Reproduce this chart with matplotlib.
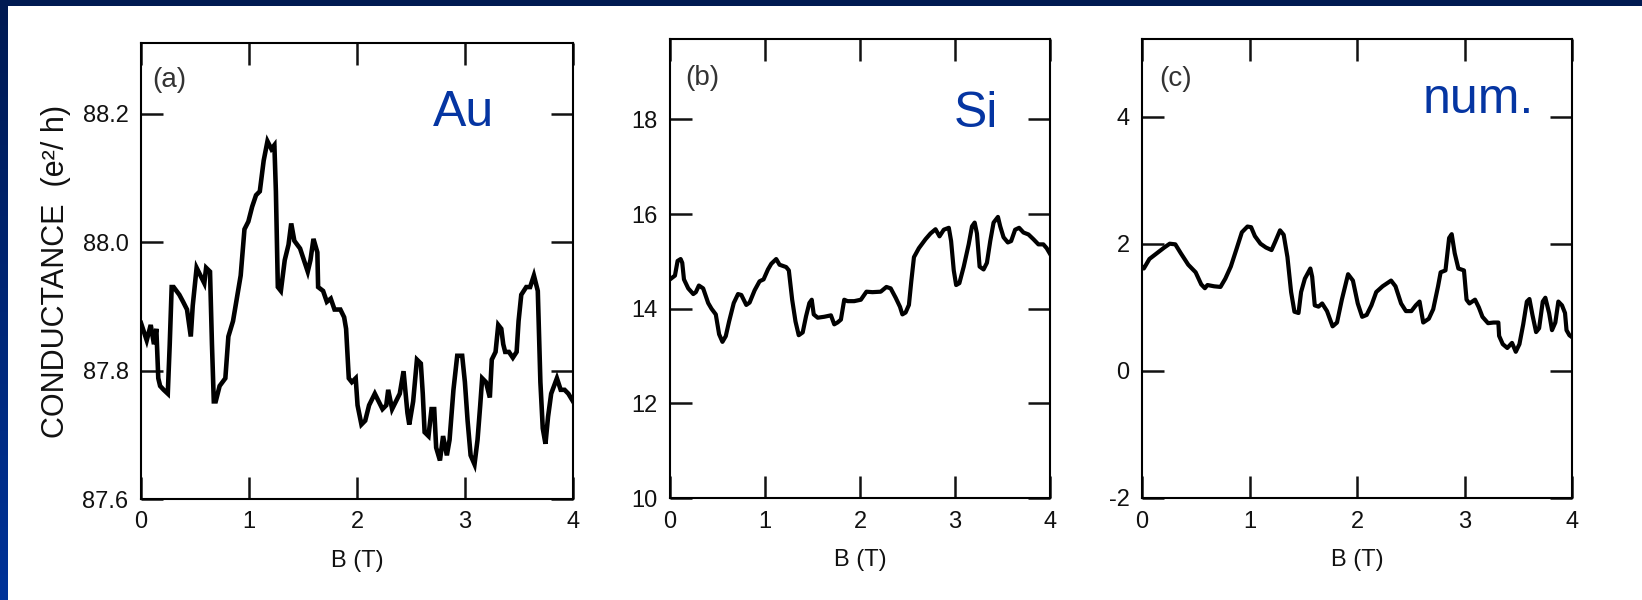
import numpy as np
import matplotlib.pyplot as plt
from matplotlib.colors import LinearSegmentedColormap

plt.rcParams['font.family'] = ['Liberation Sans', 'DejaVu Sans']

# (a) Au sample, conductance in e^2/h vs B (T)
b_au = [0.000, 0.018, 0.053, 0.090, 0.120, 0.142, 0.160, 0.177, 0.210, 0.248,
        0.266, 0.284, 0.302, 0.355, 0.390, 0.426, 0.461, 0.479, 0.515, 0.550,
        0.586, 0.603, 0.639, 0.657, 0.674, 0.692, 0.728, 0.781, 0.809, 0.852,
        0.887, 0.923, 0.958, 0.994, 1.029, 1.065, 1.100, 1.136, 1.171, 1.207,
        1.235, 1.249, 1.267, 1.295, 1.331, 1.366, 1.391, 1.420, 1.473, 1.508,
        1.544, 1.569, 1.597, 1.633, 1.640, 1.686, 1.721, 1.757, 1.792, 1.846,
        1.881, 1.899, 1.924, 1.952, 1.988, 2.005, 2.041, 2.076, 2.112, 2.165,
        2.201, 2.236, 2.271, 2.289, 2.325, 2.360, 2.396, 2.431, 2.467, 2.484,
        2.520, 2.555, 2.591, 2.609, 2.626, 2.662, 2.690, 2.715, 2.733, 2.768,
        2.797, 2.832, 2.857, 2.893, 2.928, 2.974, 2.999, 3.024, 3.052, 3.088,
        3.116, 3.141, 3.159, 3.194, 3.230, 3.248, 3.283, 3.308, 3.336, 3.354,
        3.372, 3.407, 3.443, 3.478, 3.496, 3.521, 3.567, 3.603, 3.638, 3.674,
        3.698, 3.720, 3.745, 3.769, 3.798, 3.851, 3.886, 3.922, 3.957, 4.000]
g_au = [87.874, 87.865, 87.847, 87.871, 87.841, 87.865, 87.788, 87.776, 87.770, 87.764,
        87.841, 87.930, 87.930, 87.918, 87.907, 87.895, 87.853, 87.901, 87.960, 87.948,
        87.936, 87.960, 87.954, 87.841, 87.752, 87.752, 87.776, 87.788, 87.853, 87.877,
        87.912, 87.948, 88.020, 88.032, 88.055, 88.073, 88.079, 88.127, 88.157, 88.145,
        88.151, 88.079, 87.930, 87.924, 87.972, 87.996, 88.029, 88.002, 87.990, 87.972,
        87.954, 87.972, 88.005, 87.984, 87.930, 87.924, 87.907, 87.912, 87.895, 87.895,
        87.883, 87.865, 87.788, 87.782, 87.788, 87.746, 87.716, 87.722, 87.746, 87.764,
        87.752, 87.740, 87.746, 87.770, 87.740, 87.752, 87.764, 87.799, 87.734, 87.716,
        87.752, 87.817, 87.811, 87.764, 87.704, 87.698, 87.740, 87.740, 87.680, 87.660,
        87.698, 87.668, 87.692, 87.770, 87.823, 87.823, 87.782, 87.722, 87.668, 87.654,
        87.692, 87.746, 87.788, 87.782, 87.758, 87.817, 87.829, 87.871, 87.865, 87.841,
        87.829, 87.829, 87.820, 87.829, 87.877, 87.918, 87.930, 87.930, 87.948, 87.924,
        87.782, 87.710, 87.686, 87.728, 87.764, 87.788, 87.770, 87.770, 87.764, 87.752]

# (b) Si sample
b_si = [0.000, 0.052, 0.080, 0.112, 0.129, 0.147, 0.192, 0.245, 0.272, 0.304,
        0.349, 0.402, 0.437, 0.482, 0.517, 0.552, 0.587, 0.622, 0.671, 0.716,
        0.751, 0.803, 0.838, 0.891, 0.943, 0.985, 1.031, 1.066, 1.118, 1.153,
        1.223, 1.251, 1.286, 1.321, 1.355, 1.397, 1.432, 1.467, 1.492, 1.513,
        1.555, 1.624, 1.694, 1.729, 1.764, 1.799, 1.834, 1.869, 1.939, 2.009,
        2.068, 2.131, 2.218, 2.278, 2.323, 2.376, 2.421, 2.446, 2.480, 2.515,
        2.540, 2.568, 2.620, 2.690, 2.742, 2.795, 2.837, 2.882, 2.935, 2.959,
        2.987, 3.012, 3.046, 3.092, 3.144, 3.179, 3.207, 3.231, 3.259, 3.301,
        3.336, 3.371, 3.406, 3.452, 3.476, 3.511, 3.556, 3.591, 3.633, 3.675,
        3.721, 3.773, 3.825, 3.878, 3.930, 3.965, 4.000]
g_si = [14.62, 14.70, 15.01, 15.05, 14.97, 14.62, 14.43, 14.31, 14.35, 14.49,
        14.43, 14.12, 14.00, 13.88, 13.46, 13.30, 13.42, 13.73, 14.12, 14.31,
        14.29, 14.08, 14.13, 14.39, 14.58, 14.62, 14.83, 14.95, 15.05, 14.93,
        14.88, 14.81, 14.19, 13.73, 13.44, 13.50, 13.84, 14.12, 14.19, 13.88,
        13.81, 13.83, 13.86, 13.67, 13.71, 13.77, 14.19, 14.16, 14.16, 14.19,
        14.36, 14.35, 14.36, 14.46, 14.43, 14.23, 14.04, 13.88, 13.92, 14.08,
        14.58, 15.09, 15.28, 15.47, 15.59, 15.68, 15.53, 15.67, 15.71, 15.43,
        14.81, 14.50, 14.54, 14.89, 15.36, 15.74, 15.82, 15.59, 14.89, 14.83,
        14.97, 15.43, 15.82, 15.94, 15.74, 15.51, 15.40, 15.43, 15.67, 15.71,
        15.61, 15.57, 15.47, 15.36, 15.36, 15.28, 15.16]

# (c) numerical simulation
b_num = [0.000, 0.017, 0.069, 0.138, 0.207, 0.258, 0.310, 0.361, 0.430, 0.499,
         0.551, 0.585, 0.609, 0.671, 0.730, 0.775, 0.826, 0.878, 0.929, 0.981,
         1.015, 1.050, 1.102, 1.153, 1.205, 1.239, 1.284, 1.318, 1.353, 1.387,
         1.418, 1.456, 1.480, 1.515, 1.566, 1.583, 1.607, 1.642, 1.676, 1.721,
         1.773, 1.814, 1.859, 1.917, 1.962, 2.007, 2.048, 2.090, 2.134, 2.179,
         2.238, 2.317, 2.358, 2.410, 2.455, 2.506, 2.547, 2.582, 2.616, 2.668,
         2.709, 2.754, 2.778, 2.823, 2.857, 2.881, 2.909, 2.943, 2.995, 3.019,
         3.046, 3.098, 3.133, 3.167, 3.219, 3.270, 3.315, 3.322, 3.356, 3.398,
         3.442, 3.477, 3.511, 3.546, 3.580, 3.604, 3.632, 3.666, 3.694, 3.728,
         3.752, 3.787, 3.814, 3.845, 3.873, 3.907, 3.935, 3.949, 3.976, 4.000]
g_num = [1.64, 1.61, 1.76, 1.85, 1.94, 2.00, 1.99, 1.85, 1.67, 1.55,
         1.36, 1.30, 1.35, 1.33, 1.32, 1.45, 1.64, 1.91, 2.18, 2.27,
         2.26, 2.12, 2.00, 1.94, 1.90, 2.03, 2.21, 2.14, 1.79, 1.24,
         0.93, 0.91, 1.24, 1.45, 1.61, 1.48, 1.03, 1.01, 1.06, 0.94,
         0.70, 0.76, 1.12, 1.52, 1.42, 1.06, 0.85, 0.88, 1.03, 1.24,
         1.33, 1.42, 1.33, 1.06, 0.94, 0.94, 1.03, 1.09, 0.76, 0.82,
         0.97, 1.33, 1.55, 1.58, 2.09, 2.15, 1.85, 1.61, 1.58, 1.12,
         1.06, 1.12, 1.00, 0.85, 0.75, 0.76, 0.76, 0.55, 0.42, 0.36,
         0.44, 0.30, 0.42, 0.73, 1.09, 1.13, 0.88, 0.61, 0.67, 1.09,
         1.15, 0.91, 0.64, 0.76, 1.09, 1.03, 0.91, 0.64, 0.56, 0.53]

panel_tags = ['(a)', '(b)', '(c)']
panel_names = ['Au', 'Si', 'num.']
ylims = [(87.6, 88.31), (10, 19.7), (-2, 5.22)]
yticks = [[87.6, 87.8, 88.0, 88.2], [10, 12, 14, 16, 18], [-2, 0, 2, 4]]
ytick_labels = [['87.6', '87.8', '88.0', '88.2'], ['10', '12', '14', '16', '18'],
                ['-2', '0', '2', '4']]

navy = '#001a52'
blue_text = '#0535a2'

fig = plt.figure(figsize=(16.42, 6), dpi=100)
fig.patch.set_facecolor('white')

# dark frame: top band and left gradient band
top = fig.add_axes([0, 1 - 6 / 600, 1, 6 / 600])
top.set_facecolor(navy)
top.set_xticks([])
top.set_yticks([])
for s in top.spines.values():
    s.set_visible(False)
left = fig.add_axes([0, 0, 8 / 1642, 1])
grad = np.linspace(0, 1, 256).reshape(-1, 1)
cmap = LinearSegmentedColormap.from_list('band', ['#003399', navy])
left.imshow(grad, aspect='auto', cmap=cmap, origin='lower', extent=[0, 1, 0, 1])
left.set_axis_off()

positions = [[141 / 1642, 101 / 600, 432 / 1642, 456 / 600],
             [670 / 1642, 102 / 600, 380 / 1642, 459 / 600],
             [1142 / 1642, 102 / 600, 430 / 1642, 459 / 600]]
xs = [b_au, b_si, b_num]
ys = [g_au, g_si, g_num]
tag_pos = [(0.026, 0.919), (0.04, 0.915), (0.04, 0.913)]
name_pos = [(0.817, 0.818), (0.863, 0.808), (0.912, 0.839)]

for i in range(3):
    ax = fig.add_axes(positions[i])
    ax.plot(xs[i], ys[i], color='black', lw=3.3 if i == 0 else 3.0,
            solid_joinstyle='miter' if i == 0 else 'round')
    ax.set_xlim(0, 4)
    ax.set_ylim(*ylims[i])
    ax.set_xticks([0, 1, 2, 3, 4])
    ax.set_yticks(yticks[i])
    ax.set_yticklabels(ytick_labels[i])
    ax.tick_params(direction='in', length=16, width=1.8, top=True, right=True,
                   labelsize=17, pad=9, colors='#111111')
    for s in ax.spines.values():
        s.set_linewidth(1.5)
    ax.set_xlabel('B (T)', fontsize=17, labelpad=12, color='#111111')
    ax.text(tag_pos[i][0], tag_pos[i][1], panel_tags[i], transform=ax.transAxes,
            ha='left', va='center', fontsize=20, color='#333333')
    ax.text(name_pos[i][0], name_pos[i][1], panel_names[i], transform=ax.transAxes,
            ha='right', va='baseline', fontsize=36, color=blue_text)
    if i == 0:
        ax.set_ylabel('CONDUCTANCE  (e²/ h)', fontsize=22, labelpad=8, color='#111111')

plt.savefig('out.png', dpi=100)
